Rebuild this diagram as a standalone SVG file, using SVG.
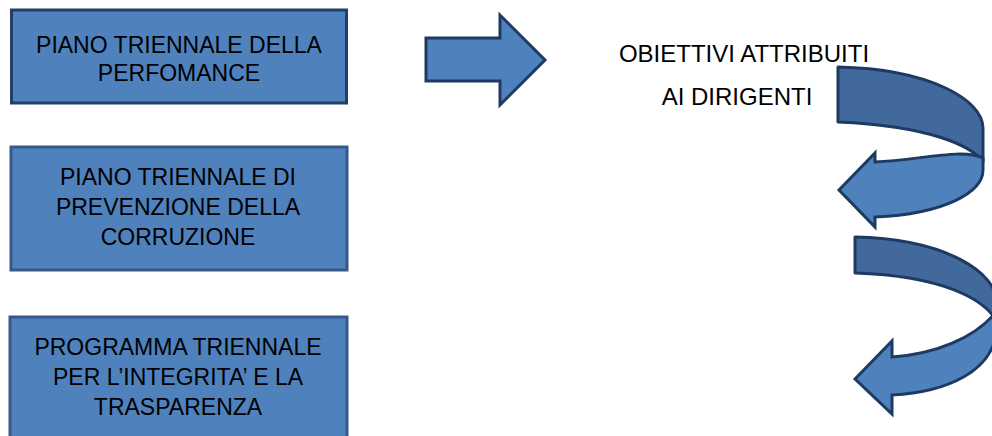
<svg xmlns="http://www.w3.org/2000/svg" width="992" height="436" viewBox="0 0 992 436">
  <style>
    .box { fill: #4F81BD; stroke: #36598A; stroke-width: 3; }
    .box1 { stroke: #243F66; }
    .lbl { font-family: "Liberation Sans", Arial, sans-serif; font-size: 23px; fill: #000; text-anchor: middle; }
    .big { font-size: 24px; }
    .arrow { fill: #4F81BD; stroke: #1E3A62; stroke-width: 3; stroke-linejoin: miter; }
    .back { fill: #41699B; stroke: #1E3A62; stroke-width: 3; stroke-linejoin: round; }
    .front { fill: #4F81BD; stroke: #1E3A62; stroke-width: 3; stroke-linejoin: miter; }
  </style>

  <rect width="992" height="436" fill="#FFFFFF"/>

  <g id="node-performance">
    <rect class="box box1" x="11.5" y="10" width="335" height="93"/>
    <text class="lbl" x="179" y="53">PIANO TRIENNALE DELLA</text>
    <text class="lbl" x="179" y="81">PERFOMANCE</text>
  </g>

  <g id="node-corruzione">
    <rect class="box" x="11" y="147" width="336" height="123"/>
    <text class="lbl" x="178" y="185">PIANO TRIENNALE DI</text>
    <text class="lbl" x="178" y="215">PREVENZIONE DELLA</text>
    <text class="lbl" x="178" y="245">CORRUZIONE</text>
  </g>

  <g id="node-trasparenza">
    <rect class="box" x="10" y="317" width="337" height="130"/>
    <text class="lbl" x="178" y="355">PROGRAMMA TRIENNALE</text>
    <text class="lbl" x="178" y="385">PER L’INTEGRITA’ E LA</text>
    <text class="lbl" x="178" y="415">TRASPARENZA</text>
  </g>

  <g id="node-obiettivi">
    <text class="lbl big" x="744" y="62">OBIETTIVI ATTRIBUITI</text>
    <text class="lbl big" x="737" y="105">AI DIRIGENTI</text>
  </g>

  <g id="connectors">
    <!-- straight block arrow -->
    <polygon class="arrow" points="426,38 500,38 500,15 545,60 500,105 500,81 426,81"/>

    <!-- upper curved arrow: back band then front band with head -->
    <path class="back" d="M838,67 C930,69 983,100 983,128 L983,162 C972,146 930,126 838,122 Z"/>
    <path class="front" d="M839,190 L875,153 L875,162 C920,160 962,148 983,158 L983,170 C983,192 945,214 875,217 L875,227 Z"/>

    <!-- lower curved arrow, clipped by the right edge -->
    <path class="back" d="M855,237 C950,239 996,275 996,300 L996,320 C984,300 945,276 855,273 Z"/>
    <path class="front" d="M855,379 L892,341 L892,357 C935,354 975,338 996,312 L996,335 C990,370 950,392 892,395 L892,414 Z"/>
  </g>
</svg>
